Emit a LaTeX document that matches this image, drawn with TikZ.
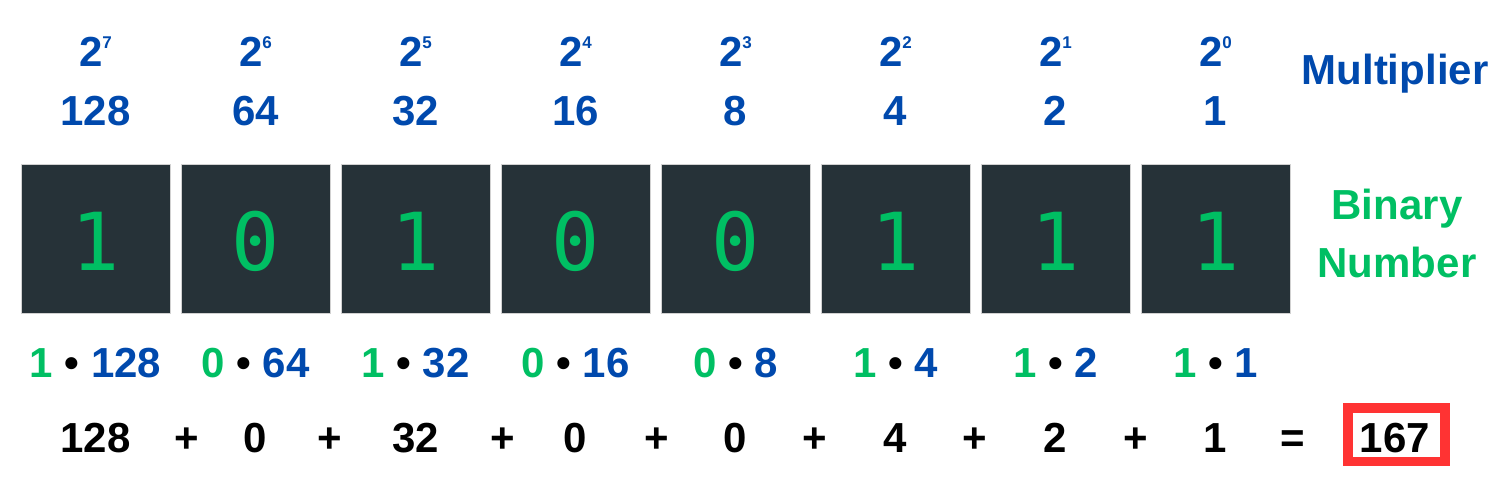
\documentclass[tikz,border=0pt]{standalone}
\usepackage{fontspec}
\setmainfont{Liberation Sans}
\newfontfamily\digitfont{DejaVu Sans Mono}
\definecolor{blu}{HTML}{0049AD}
\definecolor{grn}{HTML}{00BF63}
\definecolor{boxc}{HTML}{263238}
\definecolor{redc}{HTML}{FF3333}
\begin{document}
\begin{tikzpicture}[x=1pt,y=-1pt,
  txt/.style={inner sep=0pt,anchor=base,font=\fontsize{42}{50}\selectfont\bfseries},
  bitbox/.style={fill=boxc,draw=black!18,line width=1pt,minimum width=149pt,minimum height=148pt,inner sep=0pt},
  bit/.style={inner sep=0pt,anchor=base,text=grn,font=\fontsize{80}{90}\digitfont},
  redbox/.style={draw=redc,line width=9.5pt}]
\useasboundingbox (0,0) rectangle (1500,500);
\newcommand{\pw}[1]{2\raisebox{18pt}{\fontsize{17}{17}\selectfont #1}}
% boxes and bits
\foreach \i/\b in {0/1,1/0,2/1,3/0,4/0,5/1,6/1,7/1}{
  \node[bitbox] (box\i) at (95.5+160*\i,239) {};
  \node[bit] (bit\i) at (95.5+160*\i,270) {\b};
}
% powers and values
\foreach \i/\e/\v in {0/7/128,1/6/64,2/5/32,3/4/16,4/3/8,5/2/4,6/1/2,7/0/1}{
  \node[txt,text=blu] (pw\i) at (95.5+160*\i,67) {\pw{\e}};
  \node[txt,text=blu] (val\i) at (95.5+160*\i,126) {\v};
}
\node[txt,text=blu] (mult) at (1395,85) {Multiplier};
\node[txt,text=grn] (bin1) at (1397,219) {Binary};
\node[txt,text=grn] (bin2) at (1397,277) {Number};
% products
\foreach \i/\b/\v in {0/1/128,1/0/64,2/1/32,3/0/16,4/0/8,5/1/4,6/1/2,7/1/1}{
  \node[txt] (prod\i) at (95.5+160*\i,377) {\textcolor{grn}{\b} • \textcolor{blu}{\v}};
}
% sum
\foreach \i/\v in {0/128,1/0,2/32,3/0,4/0,5/4,6/2,7/1}{
  \node[txt] (sum\i) at (95.5+160*\i,452) {\v};
}
\foreach \x [count=\k] in {187,330,503,657,815,975,1136}{
  \node[txt] (plus\k) at (\x,452) {+};
}
\node[txt] (eq) at (1293,452) {=};
\node[txt] (res) at (1395,452) {167};
\draw[redbox] (1348,408) rectangle (1445,461.5);
\end{tikzpicture}
\end{document}
